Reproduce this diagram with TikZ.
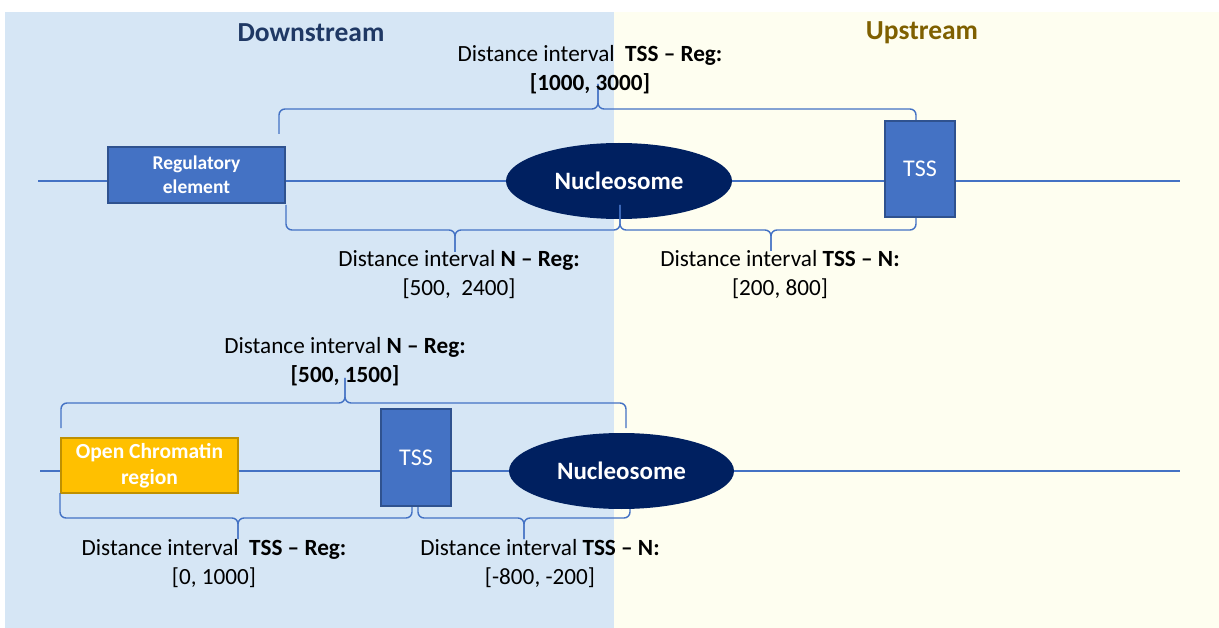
\documentclass[tikz,border=0pt]{standalone}
\usepackage{fontspec}
\setmainfont{Carlito}
\usetikzlibrary{shapes.geometric}

\definecolor{downbg}{HTML}{D6E6F5}
\definecolor{upbg}{HTML}{FEFEF0}
\definecolor{acc}{HTML}{4472C4}
\definecolor{accdark}{HTML}{2F528F}
\definecolor{navy}{HTML}{002060}
\definecolor{titleblue}{HTML}{1F3864}
\definecolor{titlegold}{HTML}{7F6000}
\definecolor{amber}{HTML}{FFC000}
\definecolor{amberdark}{HTML}{BF9000}

\tikzset{
  dna/.style={draw=acc, line width=1.3pt},
  brc/.style={draw=acc, line width=1.4pt, rounded corners=6pt},
  bluebox/.style={rectangle, fill=acc, draw=accdark, line width=1.2pt, text=white, inner sep=0pt, align=center},
  nucl/.style={ellipse, fill=navy, text=white, inner sep=0pt, font=\fontsize{25}{29}\selectfont\bfseries},
  ocr/.style={rectangle, fill=amber, draw=amberdark, line width=2.5pt, text=white, inner sep=0pt, align=center,
              font=\fontsize{21.5}{26}\selectfont\bfseries},
  lbl/.style={align=center, inner sep=0pt, text=black, font=\fontsize{23.2}{29}\selectfont},
  ttl/.style={inner sep=0pt, font=\fontsize{27.5}{30}\selectfont\bfseries},
}

% interval brace: left end, tip, right end, bar height
\newcommand\ivbrace[7]{%
  \draw[brc] (#1,#2) -- (#1,#7) -- (#3,#7) -- (#3,#4);
  \draw[brc] (#3,#4) -- (#3,#7) -- (#5,#7) -- (#5,#6);
}

\begin{document}
\begin{tikzpicture}[x=1pt,y=-1pt]
  % canvas and the two regions
  \fill[white] (0,0) rectangle (1219,628);
  \useasboundingbox (0,0) rectangle (1219,628);
  \fill[downbg] (5,12) rectangle (614,628);
  \fill[upbg] (614,12) rectangle (1219,628);

  \node[ttl, text=titleblue] (down) at (311,33) {Downstream};
  \node[ttl, text=titlegold] (up) at (922,33) {Upstream};

  % ---------- first configuration ----------
  \coordinate (a0) at (38,181);
  \coordinate (a9) at (1180,181);
  \node[bluebox, minimum width=177pt, minimum height=56pt, font=\fontsize{19.5}{24}\selectfont\bfseries]
    (reg) at (196.5,175) {Regulatory\\element};
  \node[nucl, minimum width=226pt, minimum height=76pt] (nucA) at (619,181) {Nucleosome};
  \node[bluebox, minimum width=70pt, minimum height=96pt, font=\fontsize{24}{28}\selectfont]
    (tssA) at (920,169) {TSS};

  \draw[dna] (a0) -- (reg.west |- a0);
  \draw[dna] (reg.east |- a0) -- (nucA.west);
  \draw[dna] (nucA.east) -- (tssA.west |- a0);
  \draw[dna] (tssA.east |- a0) -- (a9);

  \ivbrace{279}{134}{598}{84}{916}{120}{109}
  \ivbrace{286}{205}{455}{252}{620}{205}{230}
  \ivbrace{620}{205}{771}{251}{916}{218}{230}

  \node[lbl] (lA1) at (590,69.5) {Distance interval\ \ \textbf{TSS -- Reg:}\\\textbf{[1000, 3000]}};
  \node[lbl] (lA2) at (459,274.5) {Distance interval \textbf{N -- Reg:}\\{}[500,\ \ 2400]};
  \node[lbl] (lA3) at (780,274.5) {Distance interval \textbf{TSS -- N:}\\{}[200, 800]};

  % ---------- second configuration ----------
  \coordinate (b0) at (40,471);
  \coordinate (b9) at (1180,471);
  \node[ocr, minimum width=177pt, minimum height=55pt] (open) at (149.5,465.5) {Open Chromatin\\region};
  \node[bluebox, minimum width=70pt, minimum height=97pt, font=\fontsize{24}{28}\selectfont]
    (tssB) at (416,457.5) {TSS};
  \node[nucl, minimum width=225pt, minimum height=76pt] (nucB) at (621.5,471) {Nucleosome};

  \draw[dna] (b0) -- (open.west |- b0);
  \draw[dna] (open.east |- b0) -- (tssB.west |- b0);
  \draw[dna] (tssB.east |- b0) -- (nucB.west);
  \draw[dna] (nucB.east) -- (b9);

  \ivbrace{61}{428}{345}{378}{626}{428}{403}
  \ivbrace{60}{493}{238}{539}{412}{507}{518}
  \ivbrace{418}{507}{524}{539}{630}{509}{518}

  \node[lbl] (lB1) at (345,361.5) {Distance interval \textbf{N -- Reg:}\\\textbf{[500,\ 1500]}};
  \node[lbl] (lB2) at (214,563.5) {Distance interval\ \ \textbf{TSS -- Reg:}\\{}[0, 1000]};
  \node[lbl] (lB3) at (540,563.5) {Distance interval \textbf{TSS -- N:}\\{}[-800, -200]};
\end{tikzpicture}
\end{document}
